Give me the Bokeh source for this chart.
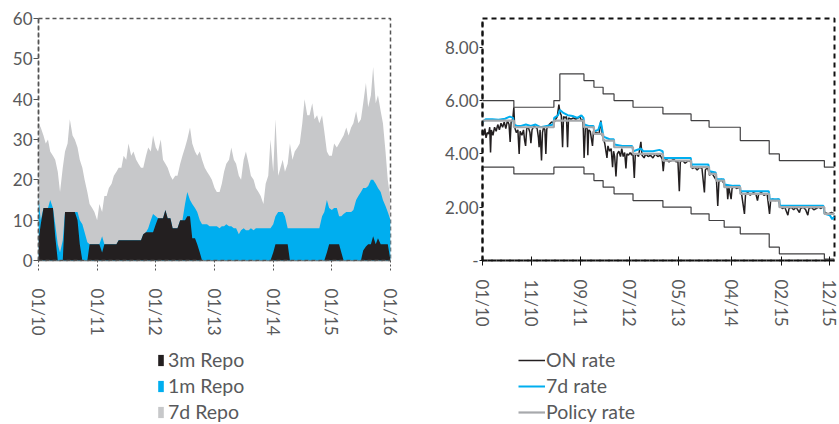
import math
import pandas as pd
from bokeh.plotting import figure
from bokeh.layouts import row, column
from bokeh.models import (Range1d, FixedTicker, DatetimeTickFormatter, Legend,
                          LegendItem, NumeralTickFormatter)
from bokeh.embed import file_html
from bokeh.resources import INLINE

FONT = "Lato"
TEXT = "#58595b"
BLACK = "#231f20"
BLUE = "#00aeef"
GREY = "#c7c8ca"

# ---------------- left chart: repo operations (semi-monthly levels, stacked) ----------------
repo_dates = pd.date_range("2010-01-01", "2016-01-01", freq="SMS")
# top of the black (3m) layer
level_3m = [5, 9, 13, 13, 13, 13, 13, 6, 0, 0, 0, 12,
            12, 12, 12, 12, 10, 4, 0, 0, 0, 4, 4, 4,
            4, 4, 2, 4, 4, 4, 4, 4, 4, 5, 5, 5,
            5, 5, 5, 5, 5, 5, 5, 6.5, 7, 7, 7, 7,
            9, 10.5, 10.5, 10.5, 12.5, 10.5, 10.5, 8, 8, 8, 10, 10,
            10, 11, 11, 5.5, 5.5, 4, 2, 0, 0, 0, 0, 0,
            0, 0, 0, 0, 0, 0, 0, 0, 0, 0, 0, 0,
            0, 0, 0, 0, 0, 0, 0, 0, 0, 0, 0, 0,
            2, 4, 4, 4, 4, 4, 4, 0, 0, 0, 0, 0,
            0, 0, 0, 0, 0, 0, 0, 0, 0, 0, 2, 4,
            4, 4, 4, 4, 2, 0, 0, 0, 0, 0, 0, 0,
            0, 2.5, 3.5, 4, 4, 6, 4, 5.5, 4, 4, 4, 4,
            0]
# top of the blue (3m + 1m) layer
level_1m = [16, 10, 13, 13, 13, 15, 13, 9, 4, 2, 5, 12,
            12, 12, 12, 12, 12, 10, 9, 7, 4.5, 4, 4, 4,
            4, 4, 6, 4, 4, 4, 4, 4, 4, 5, 5, 5,
            5, 5, 5, 5, 5, 5, 5, 6.5, 7, 8, 10, 11.5,
            11, 10.5, 10.5, 10.5, 12.5, 10.5, 10.5, 8, 8, 8, 10, 10,
            14, 17, 15, 14, 13, 12, 10, 9, 9, 9, 8.5, 8.5,
            8.5, 8.5, 8, 8.5, 8.5, 9, 8.5, 8.5, 8, 8, 6.5, 7.5,
            8, 7.5, 7.5, 8, 7.5, 8, 8, 8, 8, 8, 8, 8,
            9, 11, 12, 12, 12, 11, 8, 8, 8, 8, 8, 8,
            8, 8, 8, 8, 8, 8, 8, 8, 11, 12, 15, 13,
            12.5, 13, 13, 11, 11, 11.5, 12, 12, 12, 12.5, 15, 16,
            17, 18, 18, 18.5, 20, 20, 19, 18, 17, 15, 13.5, 12,
            10]
# top of the grey (3m + 1m + 7d) layer
level_7d = [34, 33, 31, 29, 30, 27, 26, 25, 22, 17, 23, 27,
            29, 35, 31, 30, 28, 25, 23, 20, 17, 14, 13, 12,
            10, 14, 12, 16, 16, 18, 19, 21, 22, 23, 23, 26,
            25, 29, 26, 27, 25, 24, 23, 23, 26, 28, 27, 31,
            28, 27, 30, 25, 24, 23, 21, 20, 21, 21, 24, 26,
            28, 30, 33, 29, 27, 26, 27, 25, 23, 22, 21, 20,
            18, 17, 17, 19, 22, 24, 25, 28, 25, 24, 21, 20,
            25, 27, 24, 21, 20, 18, 17, 16, 14, 19, 21, 30,
            22, 35, 21, 23, 25, 22, 24, 29, 25, 27, 28, 29,
            34, 40, 36, 36, 39, 35, 36, 34, 36, 32, 27, 26,
            26, 29, 28, 29, 30, 31, 33, 31, 33, 34, 37, 34,
            35, 39, 44, 38, 41, 48, 39, 41, 37, 34, 27, 20,
            15]
repo_xticks = ["2010-01-01", "2011-01-01", "2012-01-01", "2013-01-01",
               "2014-01-01", "2015-01-01", "2016-01-01"]
repo_yticks = [0, 10, 20, 30, 40, 50, 60]

# ---------------- right chart: rates ----------------
rate_start = pd.Timestamp("2010-01-01")
# policy rate and corridor (steps; days since 2010-01-01)
step_day = [0, 195, 444, 481, 631, 693, 750, 818, 936, 1122, 1297, 1409, 1453,
            1503, 1603, 1783, 1846, 2126, 2189]
policy_rate = [5.25, 5.0, 5.25, 5.25, 5.0, 4.75, 4.5, 4.25, 4.0, 3.75, 3.5, 3.25,
               3.0, 2.75, 2.5, 2.25, 2.0, 1.75, 1.75]
upper_rate = [6.0, 5.75, 6.0, 7.0, 6.75, 6.5, 6.25, 6.0, 5.75, 5.5, 5.25, 5.0,
              5.0, 5.0, 4.5, 4.0, 3.75, 3.5, 3.5]
lower_rate = [3.5, 3.25, 3.5, 3.5, 3.25, 3.0, 2.75, 2.5, 2.25, 2.0, 1.75, 1.5,
              1.5, 1.25, 1.0, 0.5, 0.25, 0.05, 0.05]

d7_day = [0, 20, 60, 100, 140, 170, 190, 196, 215, 240, 270, 300, 330, 360, 400,
          440, 446, 470, 481, 500, 530, 560, 590, 615, 628, 633, 660, 690, 695,
          720, 736, 745, 752, 790, 816, 820, 870, 930, 938, 985, 1000, 1060, 1100,
          1120, 1125, 1180, 1240, 1295, 1300, 1350, 1405, 1411, 1450, 1455, 1500,
          1505, 1560, 1600, 1605, 1700, 1780, 1786, 1845, 1849, 1950, 2050, 2120,
          2128, 2160, 2175, 2189]
d7_rate = [5.2, 5.3, 5.3, 5.28, 5.32, 5.4, 5.35, 5.1, 5.05, 5.05, 5.1, 5.05, 5.1,
           5.0, 5.05, 5.1, 5.35, 5.45, 5.65, 5.55, 5.45, 5.42, 5.35, 5.45, 5.35,
           5.1, 5.05, 5.05, 4.85, 4.9, 5.2, 4.9, 4.65, 4.55, 4.55, 4.35, 4.3, 4.3,
           4.1, 4.2, 4.1, 4.1, 4.15, 4.1, 3.85, 3.85, 3.85, 3.85, 3.6, 3.6, 3.6,
           3.35, 3.3, 3.05, 3.05, 2.85, 2.8, 2.8, 2.6, 2.6, 2.6, 2.3, 2.3, 2.05,
           2.05, 2.05, 2.05, 1.75, 1.7, 1.55, 1.65]

on_day = [0, 8, 15, 22, 30, 38, 45, 50, 55, 65, 75, 85, 95, 105, 115, 125, 135,
          145, 155, 165, 172, 178, 188, 195, 200, 210, 220, 228, 234, 245, 255,
          262, 268, 275, 285, 295, 301, 308, 320, 330, 340, 348, 352, 358, 367,
          373, 380, 388, 394, 400, 415, 430, 444, 455, 465, 475, 482, 490, 498,
          504, 515, 522, 529, 535, 550, 565, 580, 595, 605, 615, 625, 632, 640,
          651, 655, 660, 670, 684, 690, 700, 712, 725, 736, 745, 760, 774, 780,
          790, 800, 809, 815, 822, 830, 838, 848, 858, 866, 875, 884, 892, 898,
          908, 918, 928, 935, 944, 950, 960, 970, 985, 992, 1005, 1015, 1030,
          1045, 1060, 1075, 1090, 1105, 1118, 1124, 1130, 1145, 1160, 1175, 1190,
          1205, 1215, 1224, 1230, 1245, 1260, 1280, 1295, 1305, 1320, 1335, 1350,
          1365, 1380, 1386, 1400, 1412, 1425, 1440, 1455, 1463, 1470, 1485, 1500,
          1510, 1520, 1525, 1532, 1546, 1552, 1565, 1580, 1595, 1610, 1629, 1636,
          1650, 1665, 1685, 1700, 1710, 1718, 1735, 1750, 1770, 1785, 1792, 1805,
          1820, 1840, 1850, 1865, 1880, 1899, 1906, 1920, 1935, 1950, 1971, 1978,
          1995, 2010, 2023, 2030, 2045, 2060, 2075, 2090, 2105, 2118, 2128, 2150,
          2170, 2189]
on_rate = [4.9, 4.7, 4.95, 4.6, 4.8, 4.75, 5.0, 4.05, 4.9, 4.7, 5.0, 4.85, 5.1,
           4.9, 5.15, 5.0, 5.2, 4.95, 5.25, 5.1, 4.45, 5.2, 5.3, 5.75, 5.0, 4.8,
           4.9, 4.0, 4.85, 4.7, 4.9, 4.5, 4.3, 4.95, 5.0, 4.8, 4.4, 4.9, 5.05, 5.0,
           4.95, 4.6, 4.25, 4.9, 3.75, 4.8, 5.0, 4.9, 4.0, 4.95, 5.1, 5.2, 5.15,
           5.3, 5.4, 5.85, 5.55, 5.45, 4.25, 5.4, 5.35, 5.4, 4.25, 5.35, 5.3, 5.35,
           5.3, 5.35, 5.4, 5.25, 5.3, 3.85, 5.0, 4.95, 3.95, 4.9, 4.85, 4.3, 4.85,
           4.8, 4.8, 4.75, 5.25, 4.7, 4.4, 3.85, 4.3, 4.1, 4.2, 3.5, 4.1, 3.9, 3.15,
           4.0, 4.1, 3.9, 4.2, 3.9, 4.05, 3.45, 4.0, 3.95, 4.05, 3.95, 4.1, 3.1,
           3.95, 4.0, 3.9, 4.45, 3.95, 3.85, 4.0, 3.9, 3.95, 3.85, 4.0, 3.9, 3.95,
           3.8, 3.35, 3.75, 3.8, 3.7, 3.75, 3.8, 3.7, 3.75, 2.6, 3.7, 3.75, 3.65,
           3.75, 3.7, 3.45, 3.5, 3.4, 3.5, 3.45, 2.55, 3.4, 3.5, 3.2, 3.3, 3.15,
           3.0, 2.05, 2.95, 3.05, 2.9, 2.75, 2.8, 2.3, 2.75, 2.3, 2.7, 2.8, 2.7,
           2.75, 2.55, 1.75, 2.5, 2.55, 2.45, 2.55, 2.5, 2.25, 2.5, 2.55, 2.45, 2.5,
           1.75, 2.25, 2.3, 2.25, 2.3, 2.05, 1.95, 2.0, 1.7, 1.95, 2.0, 1.9, 2.0,
           1.8, 1.95, 2.0, 1.9, 1.7, 1.95, 2.0, 1.9, 1.95, 2.0, 1.95, 2.05, 1.8,
           1.75, 1.8, 1.75]
rate_xticks = ["2010-01-01", "2010-11-01", "2011-09-01", "2012-07-01",
               "2013-05-01", "2014-04-01", "2015-02-01", "2015-12-01"]
rate_yticks = [0, 2, 4, 6, 8]


def ms(d):
    return pd.Timestamp(d).value // 10**6


def days_to_dates(days):
    return rate_start + pd.to_timedelta(days, unit="D")


def style_axis(ax, color, dash, width):
    ax.axis_line_color = color
    ax.axis_line_dash = dash
    ax.axis_line_width = width
    ax.major_tick_line_color = color
    ax.minor_tick_line_color = None
    ax.major_label_text_font = FONT
    ax.major_label_text_font_size = "17px"
    ax.major_label_text_color = TEXT


def legend_fig(width):
    # a blank strip under each chart that only carries the legend
    f = figure(width=width, height=84, x_range=Range1d(0, 1), y_range=Range1d(0, 1),
               output_backend="svg", toolbar_location=None,
               x_axis_location=None, y_axis_location=None,
               min_border=0, outline_line_color=None)
    f.xgrid.visible = False
    f.ygrid.visible = False
    return f


def make_legend(items, x, glyph_w, standoff):
    return Legend(items=items, location=(x, 1), glyph_width=glyph_w,
                  glyph_height=14, label_standoff=standoff, spacing=3,
                  padding=0, margin=0, label_text_font=FONT,
                  label_text_font_size="19.5px", label_text_color=TEXT,
                  background_fill_alpha=0, border_line_alpha=0)


fmt = "%m/%y"

# ---------------- left figure ----------------
p1 = figure(width=420, height=340, x_axis_type="datetime",
            x_range=Range1d(pd.Timestamp("2010-01-01"), pd.Timestamp("2016-01-01")),
            y_range=Range1d(0, 60), output_backend="svg", toolbar_location=None,
            min_border_left=38, min_border_right=30, min_border_top=18,
            min_border_bottom=80)
p1.varea(x=repo_dates, y1=0, y2=level_7d, fill_color=GREY)
p1.varea(x=repo_dates, y1=0, y2=level_1m, fill_color=BLUE)
p1.varea(x=repo_dates, y1=0, y2=level_3m, fill_color=BLACK)

p1.xgrid.visible = False
p1.ygrid.visible = False
p1.outline_line_color = "#555555"
p1.outline_line_dash = "4 3"
p1.outline_line_width = 1.5
style_axis(p1.xaxis[0], "#555555", "4 3", 1.5)
style_axis(p1.yaxis[0], "#555555", "4 3", 1.5)
p1.xaxis.ticker = FixedTicker(ticks=[ms(d) for d in repo_xticks])
p1.xaxis.formatter = DatetimeTickFormatter(days=fmt, months=fmt, years=fmt)
p1.xaxis.major_label_orientation = -math.pi / 2
p1.xaxis.major_tick_in = 0
p1.xaxis.major_tick_out = 10
p1.xaxis.major_tick_line_dash = "2 2"
p1.xaxis.major_label_standoff = 18
p1.yaxis.ticker = FixedTicker(ticks=repo_yticks)
p1.yaxis.major_tick_in = 0
p1.yaxis.major_tick_out = 5
p1.yaxis.major_label_standoff = 1

l1 = legend_fig(420)
k7 = l1.varea(x=repo_dates, y1=0, y2=level_7d, fill_color=GREY)
k1 = l1.varea(x=repo_dates, y1=0, y2=level_1m, fill_color=BLUE)
k3 = l1.varea(x=repo_dates, y1=0, y2=level_3m, fill_color=BLACK)
l1.add_layout(make_legend([LegendItem(label="3m Repo", renderers=[k3]),
                           LegendItem(label="1m Repo", renderers=[k1]),
                           LegendItem(label="7d Repo", renderers=[k7])], 119, 7, 4))

# ---------------- right figure ----------------
p2 = figure(width=419, height=340, x_axis_type="datetime",
            x_range=Range1d(pd.Timestamp("2010-01-01"), pd.Timestamp("2015-12-30")),
            y_range=Range1d(0, 9.08), output_backend="svg", toolbar_location=None,
            min_border_left=62, min_border_right=5, min_border_top=18,
            min_border_bottom=80)
step_dates = days_to_dates(step_day)
p2.line(x=days_to_dates(on_day), y=on_rate, line_color=BLACK, line_width=1.5)
p2.line(x=days_to_dates(d7_day), y=d7_rate, line_color=BLUE, line_width=2)
p2.step(x=step_dates, y=policy_rate, mode="after", line_color="#a7a9ac", line_width=2.2)
p2.step(x=step_dates, y=upper_rate, mode="after", line_color="#414042", line_width=1.2)
p2.step(x=step_dates, y=lower_rate, mode="after", line_color="#414042", line_width=1.2)

p2.xgrid.visible = False
p2.ygrid.visible = False
p2.outline_line_color = "#111111"
p2.outline_line_dash = "5 4"
p2.outline_line_width = 2
style_axis(p2.xaxis[0], "#111111", "5 4", 2)
style_axis(p2.yaxis[0], "#111111", "5 4", 2)
p2.xaxis.ticker = FixedTicker(ticks=[ms(d) for d in rate_xticks])
p2.xaxis.formatter = DatetimeTickFormatter(days=fmt, months=fmt, years=fmt)
p2.xaxis.major_label_orientation = -math.pi / 2
p2.xaxis.major_tick_in = 4
p2.xaxis.major_tick_out = 5
p2.xaxis.major_label_standoff = 14
p2.yaxis.ticker = FixedTicker(ticks=rate_yticks)
p2.yaxis.formatter = NumeralTickFormatter(format="0.00")
p2.yaxis.major_label_overrides = {0: "-"}
p2.yaxis.major_tick_in = 0
p2.yaxis.major_tick_out = 3
p2.yaxis.major_label_standoff = 1

l2 = legend_fig(419)
kon = l2.line(x=days_to_dates(on_day), y=on_rate, line_color=BLACK, line_width=1.5)
k7d = l2.line(x=days_to_dates(d7_day), y=d7_rate, line_color=BLUE, line_width=2)
kpol = l2.step(x=step_dates, y=policy_rate, mode="after", line_color="#a7a9ac",
               line_width=2.2)
l2.add_layout(make_legend([LegendItem(label="ON rate", renderers=[kon]),
                           LegendItem(label="7d rate", renderers=[k7d]),
                           LegendItem(label="Policy rate", renderers=[kpol])], 36, 27, 1))

layout = row(column(p1, l1), column(p2, l2))
open("out.html", "w").write(file_html(layout, INLINE))
